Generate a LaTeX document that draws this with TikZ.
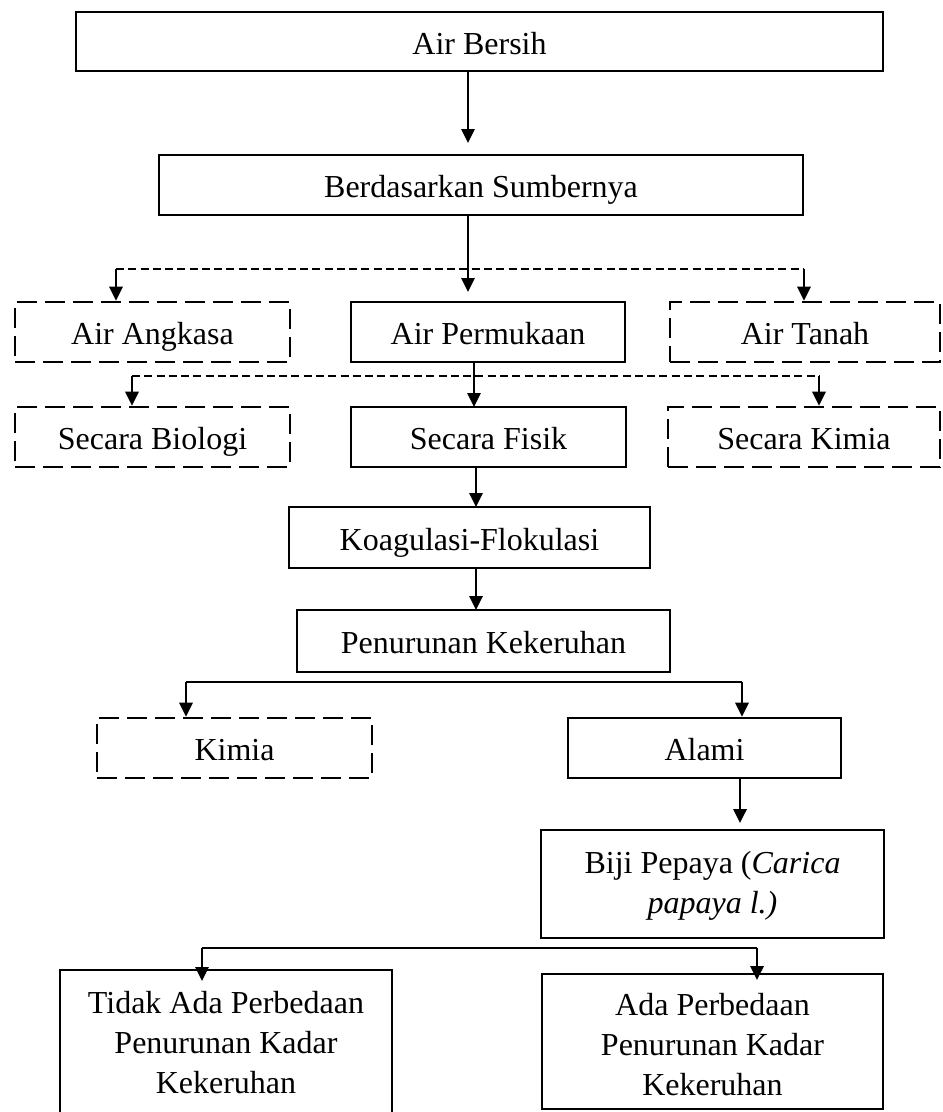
\documentclass[tikz,border=0pt]{standalone}
\usepackage{fontspec}
\setmainfont{Liberation Serif}
\usetikzlibrary{arrows.meta,fit}
\begin{document}
\begin{tikzpicture}[x=0.375pt,y=-0.375pt,
 box/.style={draw, line width=1.05pt, inner sep=0pt},
 dbox/.style={box, dash pattern=on 7.5pt off 3pt},
 txt/.style={inner sep=0pt, align=center, font=\fontsize{12}{15}\selectfont},
 stxt/.style={txt, text height=8.2pt, text depth=2.6pt, yshift=-1.9pt},
 arr/.style={line width=0.7pt, -{Triangle[length=5.2pt,width=5pt]}},
 dline/.style={line width=0.5pt, dash pattern=on 3pt off 1.6pt},
 hline/.style={line width=0.5pt}]
\useasboundingbox (0,0) rectangle (942,1112);
\clip (0,0) rectangle (942,1112);
% boxes
\node[box, fit={(76,12) (883,71)}] (ab) {};
\node[box, fit={(159,155) (803,215)}] (bs) {};
\node[dbox, fit={(15,302) (290,362)}] (ang) {};
\node[box, fit={(351,302) (625,362)}] (pm) {};
\node[dbox, fit={(670,302) (940,362)}] (tan) {};
\node[dbox, fit={(15,407) (290,467)}] (bio) {};
\node[box, fit={(351,407) (626,467)}] (fis) {};
\node[dbox, fit={(668,407) (940,467)}] (kim) {};
\node[box, fit={(289,507) (650,568)}] (ko) {};
\node[box, fit={(297,610) (670,672)}] (pk) {};
\node[dbox, fit={(97,718) (372,778)}] (kimia) {};
\node[box, fit={(568,718) (841,778)}] (alami) {};
\node[box, fit={(541,830) (884,938)}] (biji) {};
\node[box, fit={(60,970) (392,1125)}] (tidak) {};
\node[box, fit={(542,974) (883,1109)}] (ada) {};
% texts
\node[stxt] (abt) at (ab.center) {Air Bersih};
\node[stxt] (bst) at (bs.center) {Berdasarkan Sumbernya};
\node[stxt] (angt) at (ang.center) {Air Angkasa};
\node[stxt] (pmt) at (pm.center) {Air Permukaan};
\node[stxt] (tant) at (tan.center) {Air Tanah};
\node[stxt] (biot) at (bio.center) {Secara Biologi};
\node[stxt] (fist) at (fis.center) {Secara Fisik};
\node[stxt] (kimt) at (kim.center) {Secara Kimia};
\node[stxt] (kot) at (ko.center) {Koagulasi-Flokulasi};
\node[stxt] (pkt) at (pk.center) {Penurunan Kekeruhan};
\node[stxt] (kimiat) at (kimia.center) {Kimia};
\node[stxt] (alamit) at (alami.center) {Alami};
\node[txt, yshift=-0.7pt] (bijit) at (biji.center) {Biji Pepaya (\textit{Carica}\\\textit{papaya l.)}};
\node[txt] (tidakt) at (226,1043) {Tidak Ada Perbedaan\\Penurunan Kadar\\Kekeruhan};
\node[txt] (adat) at (712.5,1045) {Ada Perbedaan\\Penurunan Kadar\\Kekeruhan};
% coordinates
\coordinate (t1) at (468,143);
\coordinate (t2) at (468,292);
\coordinate (dl1) at (116,269);
\coordinate (dr1) at (804,269);
\coordinate (t3) at (474,407);
\coordinate (dl2) at (132,376);
\coordinate (dr2) at (819,376);
\coordinate (t4) at (476,507);
\coordinate (t5) at (476,610);
\coordinate (hl) at (186,682);
\coordinate (hr) at (742,682);
\coordinate (t6) at (740,823);
\coordinate (bl) at (202,948);
\coordinate (br) at (757,948);
\coordinate (tl) at (202,981);
\coordinate (tr) at (757,980);
% connectors
\draw[arr] (ab.south -| t1) -- (t1);
\draw[arr] (bs.south -| t2) -- (t2);
\draw[dline] (dl1) -- (dr1);
\draw[arr] (dl1) -- (dl1 |- ang.north);
\draw[arr] (dr1) -- (dr1 |- tan.north);
\draw[arr] (pm.south -| t3) -- (t3);
\draw[dline] (dl2) -- (dr2);
\draw[arr] (dl2) -- (dl2 |- bio.north);
\draw[arr] (dr2) -- (dr2 |- kim.north);
\draw[arr] (fis.south -| t4) -- (t4);
\draw[arr] (ko.south -| t5) -- (t5);
\draw[hline] (hl) -- (hr);
\draw[arr] (hl) -- (hl |- kimia.north);
\draw[arr] (hr) -- (hr |- alami.north);
\draw[arr] (alami.south -| t6) -- (t6);
\draw[hline] (bl) -- (br);
\draw[arr] (bl) -- (tl);
\draw[arr] (br) -- (tr);
\end{tikzpicture}
\end{document}
